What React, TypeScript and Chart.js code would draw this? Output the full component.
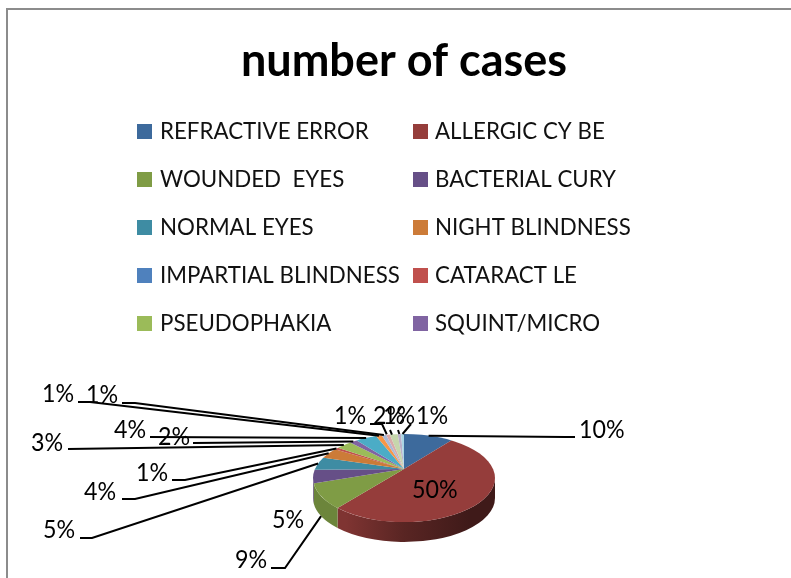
import React, { useEffect, useRef } from "react";
import { Chart, registerables } from "chart.js";

Chart.register(...registerables);

const TITLE = "number of cases";
const CATEGORIES = [
  "REFRACTIVE ERROR", "ALLERGIC CY BE", "WOUNDED  EYES", "BACTERIAL CURY", "NORMAL EYES",
  "NIGHT BLINDNESS", "IMPARTIAL BLINDNESS", "CATARACT LE", "PSEUDOPHAKIA", "SQUINT/MICRO",
  "", "", "", "", "", "", "",
];
const VALUES = [10.2, 50.2, 9.2, 5.1, 5.1, 4.2, 0, 0.9, 3.3, 1.6, 4.4, 1.2, 0.9, 0.8, 1.6, 0.7, 0.6];
const COLORS = [
  "#3D6A9C", "#953D3B", "#7F9C45", "#664F87", "#3E8CA3", "#CC7B38",
  "#4F81BD", "#C0504D", "#9BBB59", "#8064A2", "#4BACC6", "#F79646",
  "#AABAD7", "#D9AAA9", "#C6D6AC", "#BAB0C9", "#A9D5E4",
];

const FONT = "Lato";
// perspective of the tilted disc: the rim is an ellipse whose centre lies below the apex
const RIM_RY = 44;
const APEX_OFFSET = 9;
const TILT = 0.45;
const DEPTH = 20;
const NARROW = 0.93;

type Lab = { x: number; y: number; pts?: number[][]; dx?: number; dy?: number };
const LABEL_LAYOUT: Record<number, Lab> = {
  0: { x: 579, y: 430, pts: [[575, 437], [565, 437]] },
  1: { x: 412, y: 490 },
  2: { x: 235, y: 560, pts: [[271, 568], [285, 568]], dy: 20 },
  3: { x: 272, y: 520 },
  4: { x: 43, y: 530, pts: [[80, 538], [92, 538]] },
  5: { x: 84, y: 492, pts: [[122, 499], [135, 499]] },
  7: { x: 136, y: 473, pts: [[172, 480], [185, 480]] },
  8: { x: 31, y: 443, pts: [[68, 449]] },
  9: { x: 158, y: 437, pts: [[193, 443]] },
  10: { x: 114, y: 430, pts: [[150, 437]] },
  11: { x: 42, y: 394, pts: [[78, 402], [90, 402]] },
  12: { x: 86, y: 395, pts: [[122, 403], [135, 403]] },
  13: { x: 334, y: 416, pts: [[390, 430]], dx: 4 },
  14: { x: 373, y: 416, pts: [[370, 424], [382, 424]], dx: -7 },
  15: { x: 383, y: 416, pts: [[398, 430]] },
  16: { x: 416, y: 416, pts: [[411, 424]] },
};

function shade(hex: string, f: number) {
  const n = parseInt(hex.slice(1), 16);
  const c = [(n >> 16) & 255, (n >> 8) & 255, n & 255].map((v) => Math.round(v * f));
  return `rgb(${c[0]},${c[1]},${c[2]})`;
}

function narrowText(ctx: CanvasRenderingContext2D, s: string, x: number, y: number) {
  ctx.save();
  ctx.translate(x, y);
  ctx.scale(NARROW, 1);
  ctx.fillText(s, 0, 0);
  ctx.restore();
}

// where a slice edge, leaving the apex at canvas angle a, meets the rim ellipse
function rimPoint(arc: any, a: number) {
  const rx = arc.outerRadius;
  const dx = Math.cos(a);
  const dy = Math.sin(a) * TILT;
  const oy = -APEX_OFFSET;
  const A = (dx * dx) / (rx * rx) + (dy * dy) / (RIM_RY * RIM_RY);
  const B = (2 * dy * oy) / (RIM_RY * RIM_RY);
  const C = (oy * oy) / (RIM_RY * RIM_RY) - 1;
  const t = (-B + Math.sqrt(B * B - 4 * A * C)) / (2 * A);
  const x = dx * t;
  const y = dy * t + oy;
  let phi = Math.atan2(y / RIM_RY, x / rx);
  if (a > Math.PI / 2 && phi < 0) phi += 2 * Math.PI;
  return { x: arc.x + x, y: arc.y + APEX_OFFSET + y, phi };
}

const piePlugin = {
  id: "pie3d",
  beforeDatasetsDraw(chart: any) {
    const ctx = chart.ctx as CanvasRenderingContext2D;
    const arcs = chart.getDatasetMeta(0).data;
    const { x: cx, y: cy, outerRadius: r } = arcs[0];
    const ey = cy + APEX_OFFSET;
    arcs.forEach((arc: any, i: number) => {
      if (arc.endAngle - arc.startAngle <= 0) return;
      const a0 = Math.max(rimPoint(arc, arc.startAngle).phi, 0);
      const a1 = Math.min(rimPoint(arc, arc.endAngle).phi, Math.PI);
      if (a1 <= a0) return;
      const g = ctx.createLinearGradient(cx - r, 0, cx + r, 0);
      const col = COLORS[i];
      g.addColorStop(0, shade(col, 0.85));
      g.addColorStop(0.18, shade(col, 0.85));
      g.addColorStop(0.5, shade(col, 0.6));
      g.addColorStop(0.86, shade(col, 0.42));
      g.addColorStop(1, shade(col, 0.42));
      ctx.beginPath();
      ctx.ellipse(cx, ey, r, RIM_RY, 0, a0, a1);
      ctx.ellipse(cx, ey + DEPTH, r, RIM_RY, 0, a1, a0, true);
      ctx.closePath();
      ctx.fillStyle = g;
      ctx.fill();
    });
    // top face: the library's own arcs, enlarged and flattened about the apex, cut to the rim
    const grow = 1.4;
    ctx.save();
    ctx.beginPath();
    ctx.ellipse(cx, ey, r, RIM_RY, 0, 0, Math.PI * 2);
    ctx.clip();
    ctx.translate(cx, cy);
    ctx.scale(grow, grow * TILT);
    ctx.translate(-cx, -cy);
    arcs.forEach((arc: any) => arc.draw(ctx));
    ctx.restore();
    return false;
  },
  afterDraw(chart: any) {
    const ctx = chart.ctx as CanvasRenderingContext2D;
    const arcs = chart.getDatasetMeta(0).data;
    const values = chart.data.datasets[0].data as number[];
    const total = values.reduce((a, b) => a + b, 0);
    ctx.save();
    ctx.fillStyle = "#000";
    ctx.textBaseline = "middle";
    ctx.textAlign = "center";
    ctx.font = `bold 45px ${FONT}`;
    ctx.fillText(TITLE, 404, 61);
    ctx.textAlign = "left";
    ctx.font = `24px ${FONT}`;
    CATEGORIES.slice(0, 10).forEach((name, i) => {
      const col = i % 2;
      const row = Math.floor(i / 2);
      const y = 131 + row * 48;
      ctx.fillStyle = COLORS[i];
      ctx.fillRect(col ? 413 : 137, y - 7, 15, 15);
      ctx.fillStyle = "#111";
      narrowText(ctx, name, col ? 435 : 160, y);
    });
    ctx.strokeStyle = "#000";
    ctx.lineWidth = 2;
    Object.entries(LABEL_LAYOUT).forEach(([key, lab]) => {
      if (!lab.pts) return;
      const arc = arcs[+key];
      const p = rimPoint(arc, (arc.startAngle + arc.endAngle) / 2);
      ctx.beginPath();
      lab.pts.forEach(([x, y], j) => (j ? ctx.lineTo(x, y) : ctx.moveTo(x, y)));
      ctx.lineTo(p.x + (lab.dx ?? 0), p.y + (lab.dy ?? 0));
      ctx.stroke();
    });
    ctx.fillStyle = "#000";
    ctx.font = `25px ${FONT}`;
    Object.entries(LABEL_LAYOUT).forEach(([key, lab]) => {
      narrowText(ctx, `${Math.round((values[+key] / total) * 100)}%`, lab.x, lab.y);
    });
    ctx.restore();
  },
};

export default function App() {
  const ref = useRef<HTMLCanvasElement>(null);
  useEffect(() => {
    const chart = new Chart(ref.current!, {
      type: "pie",
      data: {
        labels: CATEGORIES,
        datasets: [{ data: VALUES, backgroundColor: COLORS, borderWidth: 0 }],
      },
      options: {
        responsive: false,
        animation: false,
        layout: { padding: { left: 313, right: 296, top: 378, bottom: 18 } },
        plugins: { legend: { display: false }, tooltip: { enabled: false } },
      },
      plugins: [piePlugin],
    } as any);
    return () => chart.destroy();
  }, []);
  return (
    <div style={{ position: "fixed", left: 0, top: 0, width: 791, height: 578, background: "#fff", overflow: "hidden" }}>
      <div style={{ position: "absolute", left: 6, top: 8, right: 0, bottom: 0, borderLeft: "2px solid #8c8c8c", borderTop: "2px solid #8c8c8c" }} />
      <canvas ref={ref} width={791} height={578} style={{ position: "absolute", left: 0, top: 0, display: "block" }} />
    </div>
  );
}
